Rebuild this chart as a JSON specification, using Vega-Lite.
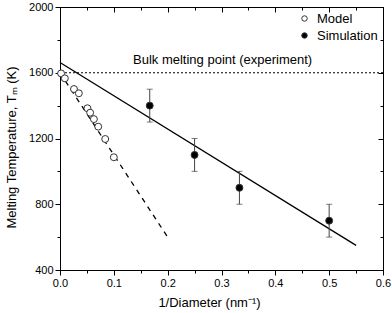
{
  "$schema": "https://vega.github.io/schema/vega-lite/v6.json",
  "width": 323,
  "height": 263,
  "autosize": {"type": "none"},
  "padding": {"left": 60, "top": 7, "right": 9, "bottom": 43},
  "config": {
    "font": "Liberation Sans",
    "view": {"stroke": "black", "strokeWidth": 1},
    "axis": {"domainColor": "black", "tickColor": "black", "labelColor": "black", "titleColor": "black", "grid": false, "labelFont": "Liberation Sans", "titleFont": "Liberation Sans", "titleFontWeight": "normal", "labelFontSize": 11, "titleFontSize": 13, "labelFlush": false, "labelOverlap": false}
  },
  "datasets": {
    "sim": [
      {"x": 0.1667, "T": 1400, "lo": 1300, "hi": 1500},
      {"x": 0.25, "T": 1100, "lo": 1000, "hi": 1200},
      {"x": 0.3333, "T": 900, "lo": 800, "hi": 1000},
      {"x": 0.5, "T": 700, "lo": 600, "hi": 800}
    ],
    "simfit": [{"x": 0, "T": 1662}, {"x": 0.55, "T": 550}],
    "modelfit": [{"x": 0, "T": 1600}, {"x": 0.2, "T": 600}],
    "pts": [
      {"x": 0.002, "T": 1596, "series": "Model"},
      {"x": 0.009, "T": 1566, "series": "Model"},
      {"x": 0.026, "T": 1501, "series": "Model"},
      {"x": 0.035, "T": 1475, "series": "Model"},
      {"x": 0.051, "T": 1384, "series": "Model"},
      {"x": 0.056, "T": 1357, "series": "Model"},
      {"x": 0.063, "T": 1318, "series": "Model"},
      {"x": 0.071, "T": 1272, "series": "Model"},
      {"x": 0.084, "T": 1197, "series": "Model"},
      {"x": 0.1, "T": 1086, "series": "Model"},
      {"x": 0.1667, "T": 1400, "series": "Simulation"},
      {"x": 0.25, "T": 1100, "series": "Simulation"},
      {"x": 0.3333, "T": 900, "series": "Simulation"},
      {"x": 0.5, "T": 700, "series": "Simulation"}
    ],
    "label": [{"x": 0.1356, "T": 1655, "text": "Bulk melting point (experiment)"}]
  },
  "resolve": {"axis": {"x": "independent", "y": "independent"}},
  "layer": [
    {
      "data": {"name": "label"},
      "mark": {"type": "rule", "strokeDash": [2, 2], "color": "black", "strokeWidth": 1},
      "encoding": {
        "y": {"datum": 1600, "type": "quantitative", "scale": {"domain": [400, 2000], "nice": false, "zero": false},
          "axis": {"orient": "left", "title": "Melting Temperature, Tₘ (K)", "values": [400, 600, 800, 1000, 1200, 1400, 1600, 1800, 2000],
            "labelExpr": "datum.value % 400 == 0 ? datum.value : ''",
            "tickSize": {"condition": {"test": "datum.value % 400 != 0", "value": 3}, "value": 5}, "titlePadding": 10, "titleY": 140, "labelPadding": 2}}
      }
    },
    {
      "data": {"name": "simfit"},
      "mark": {"type": "line", "color": "black", "strokeWidth": 1.3},
      "encoding": {
        "x": {"field": "x", "type": "quantitative", "scale": {"domain": [0, 0.6], "nice": false, "zero": false},
          "axis": {"orient": "bottom", "title": "1/Diameter (nm⁻¹)", "values": [0, 0.05, 0.1, 0.15, 0.2, 0.25, 0.3, 0.35, 0.4, 0.45, 0.5, 0.55, 0.6],
            "labelExpr": "round(datum.value*20) % 2 == 0 ? format(datum.value, '.1f') : ''",
            "tickSize": {"condition": {"test": "round(datum.value*20) % 2 == 1", "value": 3}, "value": 5}, "titlePadding": 8, "titleX": 149, "labelPadding": 2}},
        "y": {"field": "T", "type": "quantitative",
          "axis": {"orient": "right", "title": null, "labels": false, "values": [400, 600, 800, 1000, 1200, 1400, 1600, 1800, 2000],
            "tickSize": {"condition": {"test": "datum.value % 400 != 0", "value": -3}, "value": -5}}}
      }
    },
    {
      "data": {"name": "modelfit"},
      "mark": {"type": "line", "color": "black", "strokeWidth": 1.3, "strokeDash": [5, 5]},
      "encoding": {
        "x": {"field": "x", "type": "quantitative",
          "axis": {"orient": "top", "title": null, "labels": false, "values": [0, 0.05, 0.1, 0.15, 0.2, 0.25, 0.3, 0.35, 0.4, 0.45, 0.5, 0.55, 0.6],
            "tickSize": {"condition": {"test": "round(datum.value*20) % 2 == 1", "value": -3}, "value": -5}}},
        "y": {"field": "T", "type": "quantitative", "axis": null}
      }
    },
    {
      "data": {"name": "sim"},
      "mark": {"type": "rule", "color": "#444", "strokeWidth": 1},
      "encoding": {
        "x": {"field": "x", "type": "quantitative", "axis": null},
        "y": {"field": "lo", "type": "quantitative", "axis": null},
        "y2": {"field": "hi"}
      }
    },
    {
      "data": {"name": "sim"},
      "mark": {"type": "tick", "color": "#444", "thickness": 1, "size": 6, "orient": "horizontal"},
      "encoding": {
        "x": {"field": "x", "type": "quantitative", "axis": null},
        "y": {"field": "lo", "type": "quantitative", "axis": null}
      }
    },
    {
      "data": {"name": "sim"},
      "mark": {"type": "tick", "color": "#444", "thickness": 1, "size": 6, "orient": "horizontal"},
      "encoding": {
        "x": {"field": "x", "type": "quantitative", "axis": null},
        "y": {"field": "hi", "type": "quantitative", "axis": null}
      }
    },
    {
      "data": {"name": "pts"},
      "mark": {"type": "point", "shape": "circle", "size": 48, "stroke": "#333", "strokeWidth": 1, "opacity": 1},
      "encoding": {
        "x": {"field": "x", "type": "quantitative", "axis": null},
        "y": {"field": "T", "type": "quantitative", "axis": null},
        "fill": {"field": "series", "type": "nominal", "scale": {"domain": ["Model", "Simulation"], "range": ["white", "black"]},
          "legend": {"title": null, "orient": "none", "legendX": 238, "legendY": 5, "padding": 0, "labelFontSize": 13, "labelFont": "Liberation Sans", "labelColor": "black", "symbolSize": 30, "symbolStrokeColor": "#333", "symbolStrokeWidth": 1, "rowPadding": 3, "labelOffset": 6}}
      }
    },
    {
      "data": {"name": "label"},
      "mark": {"type": "text", "align": "left", "baseline": "alphabetic", "fontSize": 13, "font": "Liberation Sans", "color": "black"},
      "encoding": {
        "x": {"field": "x", "type": "quantitative", "axis": null},
        "y": {"field": "T", "type": "quantitative", "axis": null},
        "text": {"field": "text"}
      }
    }
  ]
}
